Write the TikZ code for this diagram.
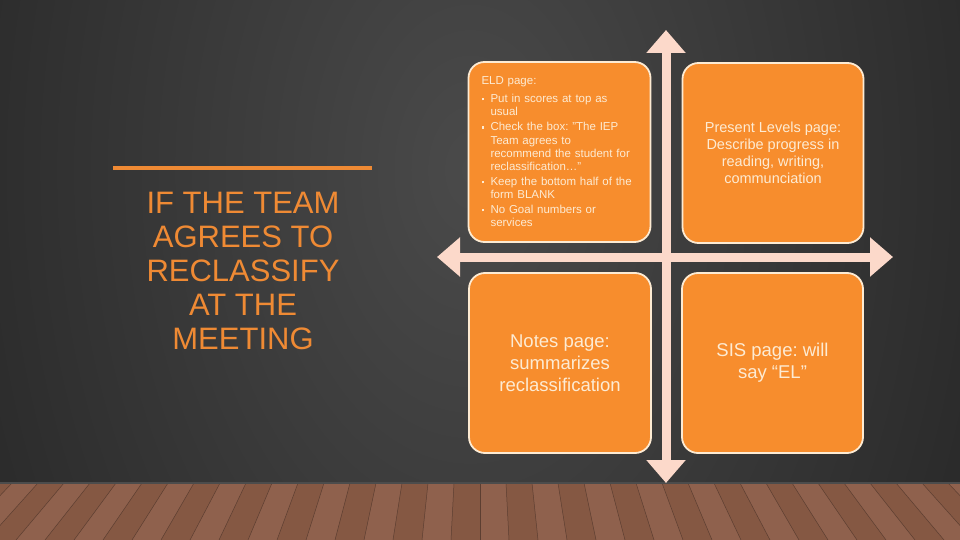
\documentclass[tikz,border=0pt]{standalone}
\usepackage{fontspec}
\setmainfont{Liberation Sans}
\usetikzlibrary{arrows.meta}
\definecolor{cardorange}{HTML}{F78D2D}
\definecolor{cardcream}{HTML}{FDEBD3}
\definecolor{titleorange}{HTML}{EF8A34}
\definecolor{arrowpink}{HTML}{FCD9CA}
\definecolor{bglight}{HTML}{4A4A4A}
\definecolor{bgdark}{HTML}{171717}
\definecolor{floorbrown}{HTML}{8F614D}
\definecolor{floordark}{HTML}{855843}
\definecolor{floorline}{HTML}{5C3E31}
\newcommand{\sqbullet}{\raisebox{2.3pt}{\rule{2.4pt}{2.4pt}}}
\newcommand{\bitem}[1]{\par\hangindent=9pt\hangafter=1\noindent\makebox[9pt][l]{\sqbullet}#1}
\frenchspacing

\begin{document}
\begin{tikzpicture}[x=1pt,y=-1pt,
    card/.style={rectangle, rounded corners=16pt, fill=cardorange, draw=cardcream,
      line width=1.8pt, minimum width=182pt, minimum height=180pt, text=cardcream, align=center},
    biarrow/.style={draw=arrowpink, line width=9pt,
      {Triangle[width=38pt,length=23pt]}-{Triangle[width=38pt,length=23pt]}},
    titletext/.style={text=titleorange, align=center, font=\fontsize{31}{34}\selectfont},
    titlerule/.style={draw=titleorange, line width=4pt}]
  \useasboundingbox (0,0) rectangle (960,540);
  % Fundo e piso
  \begin{scope}
    \clip (0,0) rectangle (960,540);
    \fill[bgdark] (0,0) rectangle (960,540);
    \shade[inner color=bglight, outer color=bgdark] (470,170) ellipse [x radius=860, y radius=1300];
    \fill[floorbrown] (0,483) rectangle (960,540);
    \foreach \i in {-19,-17,...,17}
      \fill[floordark] (480+\i*26,483) -- (506+\i*26,483) -- (509+\i*29,540) -- (480+\i*29,540) -- cycle;
    \foreach \i in {-19,...,19}
      \draw[floorline, line width=0.5pt] (480+\i*26,483) -- (480+\i*29,540);
    \draw[black!70, line width=1.5pt] (0,483) -- (960,483);
  \end{scope}
  % Setas
  \coordinate (vtop) at (666,30);
  \coordinate (vbot) at (666,483);
  \coordinate (hleft) at (437,257);
  \coordinate (hright) at (893,257);
  \draw[biarrow] (vbot) -- (vtop);
  \draw[biarrow] (hleft) -- (hright);
  % Titulo
  \draw[titlerule] (113,168) -- (372,168);
  \node[titletext] (title) at (243,271) {IF THE TEAM\\AGREES TO\\RECLASSIFY\\AT THE\\MEETING};
  % Caixas
  \node[card, text width=156pt, align=left, font=\fontsize{11.5}{13.2}\selectfont] (eld) at (559.5,152) {%
    \setlength{\parskip}{1.8pt}%
    ELD page:\par\vspace{3pt}%
    \bitem{Put in scores at top as\newline usual}%
    \bitem{Check the box: "The IEP\newline Team agrees to\newline recommend the student for\newline reclassification…"}%
    \bitem{Keep the bottom half of the\newline form BLANK}%
    \bitem{No Goal numbers or\newline services}\par};
  \node[card, minimum width=181pt, font=\fontsize{14.5}{17}\selectfont] (levels) at (773,153)
    {Present Levels page:\\Describe progress in\\reading, writing,\\communciation};
  \node[card, font=\fontsize{18.5}{22}\selectfont] (notes) at (560,363)
    {Notes page:\\summarizes\\reclassification};
  \node[card, minimum width=181pt, font=\fontsize{18.5}{22}\selectfont] (sis) at (772.5,363)
    {SIS page: will\\say “EL”};
\end{tikzpicture}
\end{document}
